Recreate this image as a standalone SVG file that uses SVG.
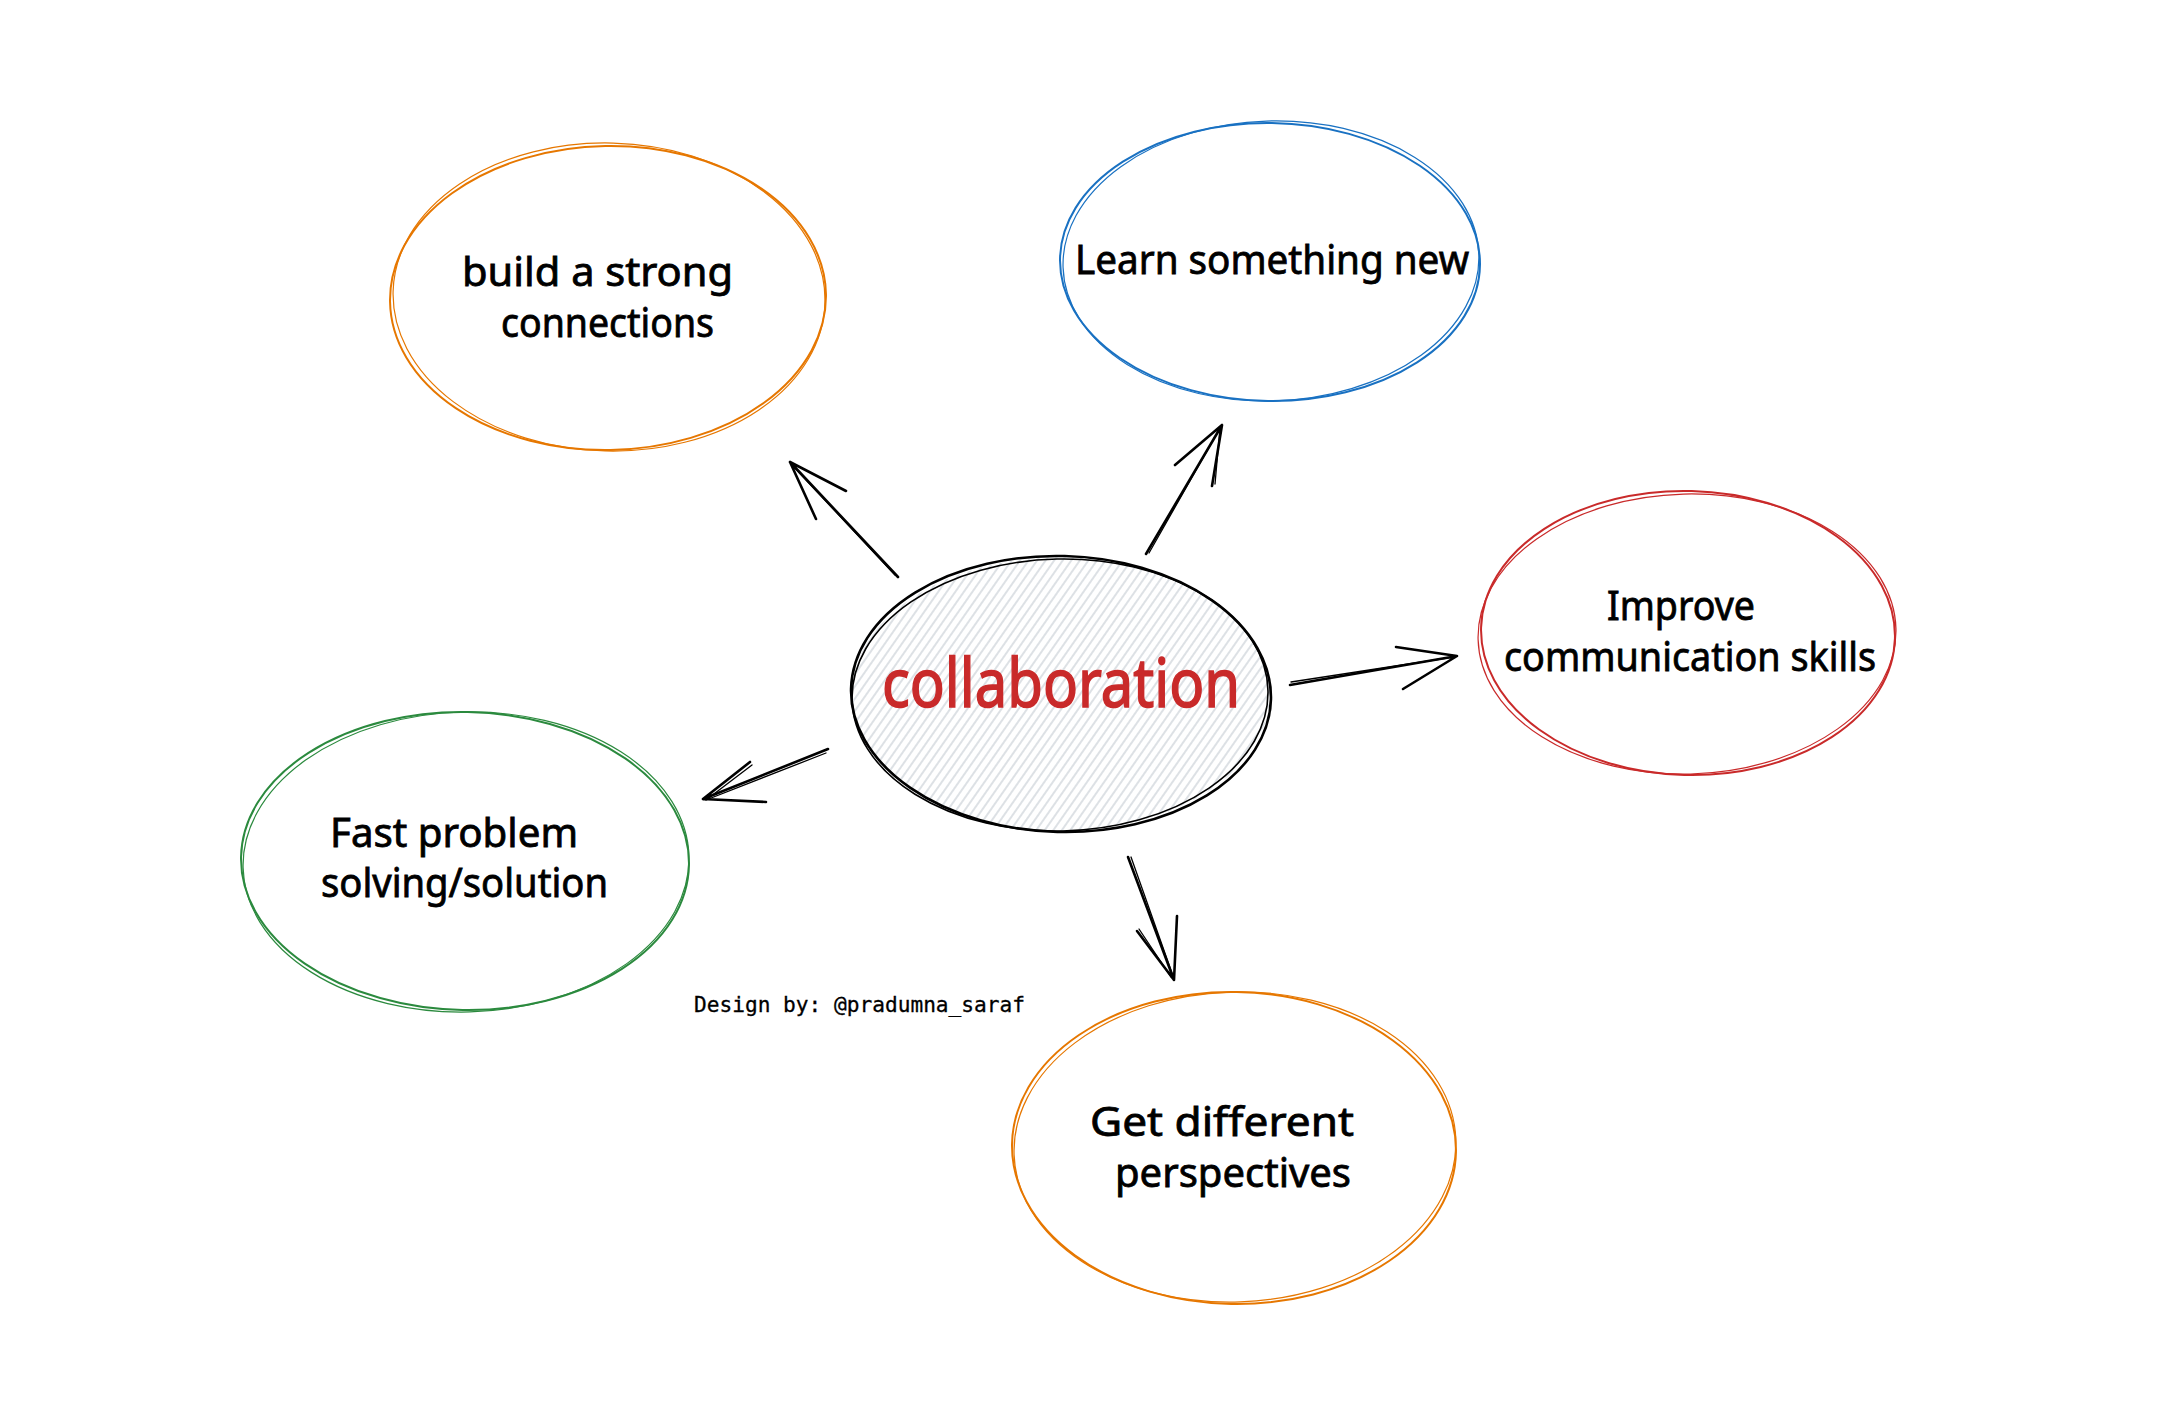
<svg xmlns="http://www.w3.org/2000/svg" width="2171" height="1422" viewBox="0 0 2171 1422">
  <defs>
    <pattern id="hatch" width="7" height="7" patternUnits="userSpaceOnUse" patternTransform="rotate(35)">
      <line x1="2" y1="0" x2="2" y2="7" stroke="#ced4da" stroke-width="1.4"/>
    </pattern>
  </defs>
  <style>
    .ring { fill: none; stroke-width: 2; stroke-linecap: round; }
    .ring2 { fill: none; stroke-width: 1.2; stroke-linecap: round; }
    .orange { stroke: #e67700; }
    .blue { stroke: #1971c2; }
    .red { stroke: #c92a2a; }
    .green { stroke: #2b8a3e; }
    .label { font-family: "Noto Sans", "Liberation Sans", sans-serif; font-size: 40px; fill: #000000; stroke: #000000; stroke-width: 0.8; }
    .title { font-family: "Noto Sans", "Liberation Sans", sans-serif; font-size: 68px; fill: #c92a2a; stroke: #c92a2a; stroke-width: 1.6; }
    .credit { font-family: "DejaVu Sans Mono", "Liberation Mono", monospace; font-size: 21px; fill: #000000; stroke: #000000; stroke-width: 0.3; }
    .conn { fill: none; stroke: #000000; stroke-width: 2.6; stroke-linecap: round; stroke-linejoin: round; }
    .conn2 { fill: none; stroke: #000000; stroke-width: 1.3; stroke-linecap: round; }
  </style>
  <rect x="0" y="0" width="2171" height="1422" fill="#ffffff"/>

  <g id="node-center">
    <ellipse cx="1061" cy="694" rx="209" ry="137" fill="url(#hatch)" stroke="none"/>
    <ellipse cx="1061" cy="694" rx="210" ry="138" fill="none" stroke="#000" stroke-width="2.6" transform="rotate(1.5 1061 694)"/>
    <ellipse cx="1060" cy="695" rx="208" ry="136" fill="none" stroke="#000" stroke-width="1.6" transform="rotate(-1.2 1061 694)"/>
    <text class="title" x="882" y="707" textLength="358" lengthAdjust="spacingAndGlyphs">collaboration</text>
  </g>

  <g id="node-build">
    <ellipse class="ring orange" cx="608" cy="298" rx="218" ry="152" transform="rotate(-1 608 298)"/>
    <ellipse class="ring2 orange" cx="609" cy="297" rx="216" ry="154" transform="rotate(1.5 608 298)"/>
    <text class="label" x="462" y="286" textLength="271" lengthAdjust="spacingAndGlyphs">build a strong</text>
    <text class="label" x="501" y="337" textLength="213" lengthAdjust="spacingAndGlyphs">connections</text>
  </g>

  <g id="node-learn">
    <ellipse class="ring blue" cx="1270" cy="262" rx="210" ry="139" transform="rotate(0.8 1270 262)"/>
    <ellipse class="ring2 blue" cx="1271" cy="261" rx="208" ry="140" transform="rotate(-1.8 1270 262)"/>
    <text class="label" x="1075" y="274" textLength="394" lengthAdjust="spacingAndGlyphs">Learn something new</text>
  </g>

  <g id="node-improve">
    <ellipse class="ring red" cx="1688" cy="633" rx="207" ry="142" transform="rotate(1.5 1688 633)"/>
    <ellipse class="ring2 red" cx="1687" cy="634" rx="209" ry="140" transform="rotate(-1.5 1688 633)"/>
    <text class="label" x="1607" y="620" textLength="148" lengthAdjust="spacingAndGlyphs">Improve</text>
    <text class="label" x="1504" y="671" textLength="372" lengthAdjust="spacingAndGlyphs">communication skills</text>
  </g>

  <g id="node-fast">
    <ellipse class="ring green" cx="465" cy="861" rx="224" ry="149" transform="rotate(1 465 861)"/>
    <ellipse class="ring2 green" cx="466" cy="862" rx="223" ry="150" transform="rotate(-1.5 465 861)"/>
    <text class="label" x="330" y="847" textLength="248" lengthAdjust="spacingAndGlyphs">Fast problem</text>
    <text class="label" x="321" y="897" textLength="287" lengthAdjust="spacingAndGlyphs">solving/solution</text>
  </g>

  <g id="node-get">
    <ellipse class="ring orange" cx="1234" cy="1148" rx="222" ry="156" transform="rotate(1 1234 1148)"/>
    <ellipse class="ring2 orange" cx="1235" cy="1147" rx="221" ry="155" transform="rotate(-2 1234 1148)"/>
    <text class="label" x="1090" y="1136" textLength="264" lengthAdjust="spacingAndGlyphs">Get different</text>
    <text class="label" x="1115" y="1187" textLength="236" lengthAdjust="spacingAndGlyphs">perspectives</text>
  </g>

  <g id="credit">
    <text class="credit" x="694" y="1012" textLength="331" lengthAdjust="spacingAndGlyphs">Design by: @pradumna_saraf</text>
  </g>

  <g id="connectors">
    <path class="conn" d="M898 577 L790 462 M790 462 L846 491 M790 462 L816 519"/>
    <path class="conn2" d="M895 575 L792 465"/>
    <path class="conn" d="M1146 554 L1222 425 M1222 425 L1175 465 M1222 425 L1212 486"/>
    <path class="conn2" d="M1149 553 L1220 428 M1220 428 L1215 484"/>
    <path class="conn" d="M1290 685 L1457 656 M1457 656 L1396 647 M1457 656 L1403 689"/>
    <path class="conn2" d="M1291 682 L1454 657"/>
    <path class="conn" d="M828 749 L703 799 M703 799 L750 762 M703 799 L766 802"/>
    <path class="conn2" d="M826 753 L706 800 M706 800 L752 765"/>
    <path class="conn" d="M1128 857 L1174 980 M1174 980 L1137 931 M1174 980 L1177 916"/>
    <path class="conn2" d="M1131 857 L1173 976 M1171 977 L1139 929"/>
  </g>
</svg>
